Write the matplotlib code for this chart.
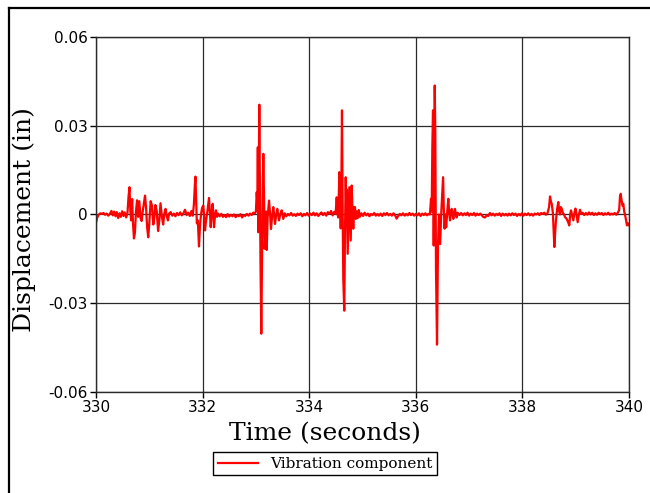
import numpy as np
import matplotlib
matplotlib.use("Agg")
import matplotlib.pyplot as plt
from matplotlib.lines import Line2D

# Displacement record, read as (time s, displacement in) pairs, one list per stretch
quiet_330 = [
    (330.000, -0.0028), (330.020, -0.0012), (330.045, -0.0002), (330.080, 0.0004),
    (330.110, 0.0002), (330.140, 0.0005), (330.170, -0.0001), (330.200, 0.0003),
    (330.230, -0.0004), (330.260, 0.0002), (330.290, 0.0012), (330.315, -0.0003),
    (330.340, 0.0010), (330.365, -0.0006), (330.390, 0.0008), (330.415, -0.0012),
    (330.440, 0.0004), (330.465, -0.0008), (330.490, 0.0011), (330.515, -0.0005),
    (330.540, 0.0007), (330.565, -0.0010), (330.590, 0.0004),
]
burst_330 = [
    (330.610, 0.0060), (330.628, 0.0092), (330.645, 0.0010), (330.660, -0.0020),
    (330.678, 0.0052), (330.694, -0.0030), (330.712, -0.0081), (330.730, -0.0062),
    (330.750, 0.0010), (330.770, 0.0048), (330.790, -0.0008), (330.812, 0.0045),
    (330.835, -0.0012), (330.855, -0.0022), (330.876, 0.0010), (330.900, 0.0040),
    (330.920, 0.0064), (330.940, 0.0020), (330.960, -0.0045), (330.980, -0.0077),
    (331.000, -0.0030), (331.025, 0.0045), (331.051, 0.0030), (331.075, -0.0034),
    (331.094, -0.0010), (331.115, 0.0032), (331.139, 0.0012), (331.165, -0.0056),
    (331.188, -0.0020), (331.210, 0.0038), (331.238, -0.0010), (331.260, -0.0034),
    (331.281, 0.0002), (331.305, 0.0019), (331.326, -0.0005), (331.350, -0.0020),
    (331.370, 0.0003),
]
quiet_331 = [
    (331.400, 0.0008), (331.430, -0.0004), (331.460, 0.0003), (331.490, -0.0006),
    (331.520, 0.0005), (331.550, -0.0002), (331.580, 0.0007), (331.610, -0.0003),
    (331.640, 0.0004), (331.670, 0.0016), (331.700, -0.0002), (331.730, 0.0006),
    (331.760, -0.0005), (331.790, 0.0012), (331.815, -0.0004), (331.835, 0.0030),
]
burst_332 = [
    (331.855, 0.0100), (331.866, 0.0128), (331.880, 0.0040), (331.892, -0.0030),
    (331.910, -0.0020), (331.932, -0.0108), (331.950, -0.0040), (331.970, 0.0000),
    (331.990, 0.0022), (332.013, 0.0030), (332.030, -0.0010), (332.045, -0.0054),
    (332.065, -0.0020), (332.090, 0.0010), (332.120, 0.0056), (332.136, 0.0010),
    (332.152, -0.0043), (332.170, 0.0005), (332.189, 0.0036), (332.200, 0.0005),
    (332.214, -0.0043), (332.232, -0.0005), (332.251, 0.0014), (332.270, -0.0008),
    (332.290, 0.0003),
]
quiet_332 = [
    (332.320, -0.0006), (332.350, 0.0002), (332.380, -0.0008), (332.410, -0.0002),
    (332.440, -0.0009), (332.470, 0.0001), (332.500, -0.0007), (332.530, -0.0001),
    (332.560, -0.0006), (332.590, 0.0000), (332.620, -0.0009), (332.650, -0.0002),
    (332.680, -0.0006), (332.710, 0.0001), (332.740, -0.0010), (332.770, -0.0002),
    (332.800, -0.0005), (332.830, 0.0002), (332.860, -0.0004), (332.890, 0.0003),
    (332.920, -0.0002), (332.950, 0.0006), (332.980, 0.0004),
]
burst_333 = [
    (333.000, 0.0010), (333.015, 0.0075), (333.028, 0.0040), (333.036, 0.0227),
    (333.045, -0.0060), (333.064, 0.0371), (333.078, 0.0050), (333.086, -0.0160),
    (333.101, -0.0403), (333.115, -0.0150), (333.128, 0.0080), (333.139, 0.0205),
    (333.152, 0.0060), (333.165, -0.0116), (333.180, -0.0060), (333.192, 0.0010),
    (333.203, -0.0120), (333.220, -0.0010), (333.246, 0.0047), (333.265, 0.0005),
    (333.283, -0.0049), (333.305, -0.0005), (333.326, 0.0025), (333.342, 0.0000),
    (333.358, -0.0032), (333.380, -0.0002), (333.401, 0.0019), (333.418, 0.0000),
    (333.433, -0.0020), (333.460, 0.0003), (333.484, 0.0014), (333.500, -0.0002),
    (333.514, -0.0015),
]
quiet_334 = [
    (333.540, 0.0004), (333.570, -0.0006), (333.600, 0.0002), (333.630, -0.0003),
    (333.660, 0.0005), (333.690, -0.0004), (333.720, 0.0001), (333.750, -0.0005),
    (333.780, 0.0003), (333.810, -0.0002), (333.840, 0.0004), (333.870, -0.0006),
    (333.900, 0.0002), (333.930, -0.0003), (333.960, 0.0005), (333.990, -0.0004),
    (334.020, 0.0003), (334.050, -0.0002), (334.080, 0.0006), (334.110, -0.0003),
    (334.140, 0.0004), (334.170, -0.0005), (334.200, 0.0002), (334.230, 0.0007),
    (334.260, -0.0002), (334.290, 0.0005), (334.320, -0.0004), (334.350, 0.0008),
    (334.380, 0.0002), (334.410, 0.0012), (334.440, -0.0003), (334.470, 0.0009),
    (334.495, 0.0002),
]
burst_334 = [
    (334.516, 0.0058), (334.532, 0.0000), (334.546, -0.0010), (334.565, 0.0143),
    (334.578, 0.0115), (334.591, -0.0047), (334.603, 0.0100), (334.615, 0.0352),
    (334.628, 0.0000), (334.640, -0.0223), (334.658, -0.0325), (334.672, -0.0050),
    (334.685, 0.0126), (334.695, 0.0020), (334.704, 0.0085), (334.722, -0.0133),
    (334.737, -0.0020), (334.752, 0.0092), (334.765, 0.0000), (334.779, -0.0088),
    (334.790, 0.0020), (334.797, 0.0098), (334.812, 0.0010), (334.827, -0.0048),
    (334.845, 0.0025), (334.859, 0.0025), (334.875, -0.0015), (334.891, 0.0010),
    (334.910, -0.0012), (334.930, 0.0015), (334.950, -0.0008),
]
quiet_335 = [
    (334.980, 0.0004), (335.010, -0.0005), (335.040, 0.0006), (335.070, -0.0003),
    (335.100, 0.0003), (335.130, -0.0006), (335.160, 0.0002), (335.190, -0.0002),
    (335.220, 0.0005), (335.250, -0.0004), (335.280, 0.0002), (335.310, -0.0004),
    (335.340, 0.0003), (335.370, -0.0005), (335.400, 0.0004), (335.430, -0.0002),
    (335.460, 0.0005), (335.490, -0.0003), (335.520, 0.0002), (335.550, -0.0004),
    (335.580, 0.0004), (335.610, -0.0002), (335.640, -0.0014), (335.670, -0.0005),
    (335.700, 0.0002), (335.730, -0.0003), (335.760, 0.0004), (335.790, -0.0004),
    (335.820, 0.0002), (335.850, -0.0003), (335.880, 0.0005), (335.910, -0.0002),
    (335.940, 0.0003), (335.970, -0.0004), (336.000, 0.0002), (336.030, -0.0003),
    (336.060, 0.0004), (336.090, -0.0005), (336.120, 0.0003), (336.150, -0.0002),
    (336.180, 0.0004), (336.210, -0.0003), (336.240, 0.0002), (336.265, 0.0000),
]
burst_336 = [
    (336.285, 0.0053), (336.298, 0.0010), (336.310, 0.0228), (336.323, 0.0352),
    (336.336, -0.0105), (336.355, 0.0436), (336.366, 0.0270), (336.379, -0.0190),
    (336.398, -0.0440), (336.417, -0.0099), (336.435, 0.0000), (336.456, -0.0100),
    (336.480, 0.0015), (336.512, 0.0126), (336.525, 0.0020), (336.540, -0.0048),
    (336.556, 0.0000), (336.570, -0.0043), (336.590, 0.0010), (336.610, 0.0053),
    (336.626, 0.0005), (336.642, -0.0020), (336.658, 0.0005), (336.674, 0.0019),
    (336.690, 0.0000), (336.704, -0.0015), (336.720, 0.0005), (336.735, 0.0019),
    (336.750, 0.0002), (336.767, -0.0010), (336.785, 0.0006),
]
quiet_337 = [
    (336.820, -0.0002), (336.850, 0.0005), (336.880, -0.0003), (336.910, 0.0004),
    (336.940, -0.0002), (336.970, 0.0006), (337.000, -0.0004), (337.030, 0.0003),
    (337.060, -0.0002), (337.090, 0.0005), (337.120, -0.0004), (337.150, 0.0003),
    (337.180, -0.0002), (337.210, 0.0003), (337.240, -0.0003), (337.270, -0.0009),
    (337.300, -0.0010), (337.330, -0.0002), (337.360, -0.0005), (337.390, 0.0005),
    (337.420, -0.0003), (337.450, 0.0003), (337.480, -0.0004), (337.510, 0.0002),
    (337.540, -0.0002), (337.570, 0.0004), (337.600, -0.0005), (337.630, 0.0003),
    (337.660, -0.0003), (337.690, 0.0002), (337.720, -0.0004), (337.750, 0.0003),
    (337.780, -0.0003), (337.810, 0.0004), (337.840, -0.0002), (337.870, 0.0003),
    (337.900, -0.0005), (337.930, 0.0002), (337.960, -0.0003), (337.990, 0.0004),
    (338.020, -0.0004), (338.050, 0.0003), (338.080, -0.0002), (338.110, 0.0004),
    (338.140, -0.0003), (338.170, 0.0002), (338.200, -0.0004), (338.230, 0.0003),
    (338.260, 0.0000), (338.290, 0.0004), (338.320, -0.0002), (338.350, 0.0005),
    (338.380, 0.0002), (338.410, 0.0006), (338.440, -0.0001), (338.470, 0.0004),
]
burst_338 = [
    (338.500, 0.0025), (338.518, 0.0061), (338.534, 0.0045), (338.550, 0.0036),
    (338.572, 0.0005), (338.599, -0.0110), (338.615, -0.0060), (338.630, -0.0020),
    (338.652, 0.0020), (338.674, 0.0042), (338.690, 0.0010), (338.705, 0.0000),
    (338.720, 0.0025), (338.737, 0.0020), (338.760, 0.0005), (338.780, 0.0000),
    (338.805, -0.0010), (338.831, -0.0015), (338.855, -0.0025), (338.880, -0.0037),
    (338.896, 0.0000), (338.912, 0.0014), (338.935, -0.0005), (338.955, -0.0020),
    (338.975, 0.0005), (338.996, 0.0020), (339.015, 0.0000), (339.037, -0.0026),
    (339.060, 0.0000), (339.081, 0.0016), (339.100, 0.0002),
]
quiet_339 = [
    (339.130, 0.0006), (339.160, -0.0002), (339.190, 0.0005), (339.220, -0.0001),
    (339.250, 0.0007), (339.280, 0.0000), (339.310, 0.0006), (339.340, -0.0002),
    (339.370, 0.0004), (339.400, -0.0001), (339.430, 0.0006), (339.460, 0.0001),
    (339.490, 0.0005), (339.520, -0.0002), (339.550, 0.0004), (339.580, 0.0000),
    (339.610, 0.0006), (339.640, -0.0001), (339.670, 0.0003), (339.700, 0.0000),
    (339.730, 0.0005), (339.760, -0.0001), (339.790, 0.0006), (339.815, 0.0015),
]
tail_340 = [
    (339.831, 0.0060), (339.845, 0.0070), (339.859, 0.0050), (339.880, 0.0030),
    (339.893, 0.0036), (339.910, 0.0010), (339.925, 0.0000), (339.945, -0.0020),
    (339.962, -0.0037), (339.980, -0.0030), (340.000, -0.0036),
]

x_ticks = [330, 332, 334, 336, 338, 340]
y_ticks = [-0.06, -0.03, 0, 0.03, 0.06]
y_tick_labels = ["-0.06", "-0.03", "0", "0.03", "0.06"]

segments = [quiet_330, burst_330, quiet_331, burst_332, quiet_332, burst_333,
            quiet_334, burst_334, quiet_335, burst_336, quiet_337, burst_338,
            quiet_339, tail_340]
record = np.array([p for seg in segments for p in seg])
time, disp = record[:, 0], record[:, 1]

fig = plt.figure(figsize=(6.5, 4.93), dpi=100)
ax = fig.add_axes([0.1477, 0.2049, 0.82, 0.7201])

ax.plot(time, disp, color="#ff0000", linewidth=1.6, label="Vibration component")

ax.set_xlim(330, 340)
ax.set_ylim(-0.06, 0.06)
ax.set_xticks(x_ticks)
ax.set_xticklabels([str(t) for t in x_ticks])
ax.set_yticks(y_ticks)
ax.set_yticklabels(y_tick_labels)
ax.tick_params(direction="out", length=4, width=1, pad=2, labelsize=11,
               top=False, right=False)
ax.grid(True, color="#2a2a2a", linewidth=0.9)
ax.set_axisbelow(True)
for s in ax.spines.values():
    s.set_color("#2a2a2a")
    s.set_linewidth(1.0)

# the x title and legend sit on the middle of the whole figure, not the axes
ax.set_xlabel("Time (seconds)", family="DejaVu Serif", fontsize=18)
ax.xaxis.set_label_coords(0.43, -0.085)
ax.set_ylabel("Displacement (in)", family="DejaVu Serif", fontsize=18)
ax.yaxis.set_label_coords(-0.113, 0.485)

leg = ax.legend(loc="center", bbox_to_anchor=(0.5, 0.059), bbox_transform=fig.transFigure,
                fancybox=False, framealpha=1, edgecolor="black", handlelength=2.6,
                borderpad=0.3, prop={"family": "DejaVu Serif", "size": 11})
leg.get_frame().set_linewidth(1.0)

# outer chart frame, open at the right and bottom edges
fig.add_artist(Line2D([9 / 650, 9 / 650], [0, 1 - 8 / 493], transform=fig.transFigure,
                      color="black", linewidth=1.6))
fig.add_artist(Line2D([9 / 650, 1], [1 - 8 / 493, 1 - 8 / 493], transform=fig.transFigure,
                      color="black", linewidth=1.6))

fig.savefig("out.png", dpi=100)
